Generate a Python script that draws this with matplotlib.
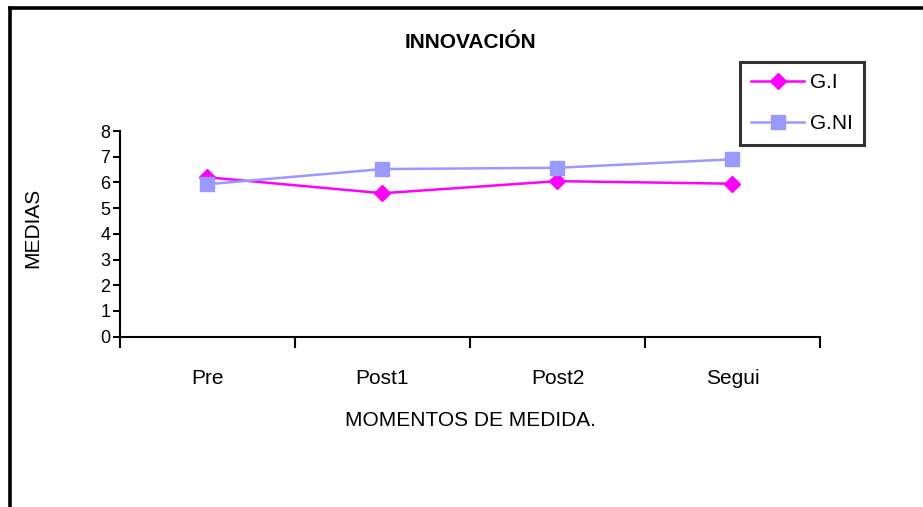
import matplotlib
matplotlib.use('Agg')
import matplotlib.pyplot as plt
from matplotlib.lines import Line2D

# data
momentos = ['Pre', 'Post1', 'Post2', 'Segui']
g_i = [6.2, 5.58, 6.05, 5.95]
g_ni = [5.93, 6.52, 6.57, 6.9]

plt.rcParams['font.family'] = ['Liberation Sans Narrow', 'Liberation Sans', 'DejaVu Sans']

fig = plt.figure(figsize=(9.23, 5.07), dpi=100)
ax = fig.add_axes([120/923, 1-336.7/507, 700/923, (336.7-131)/507])

x = range(len(momentos))
ax.plot(x, g_i, color='#FF00FF', lw=1.8, marker='D', ms=8, label='G.I')
ax.plot(x, g_ni, color='#9999FF', lw=1.8, marker='s', ms=10, label='G.NI')

# a. axes
ax.set_xlim(-0.5, 3.5)
ax.set_ylim(0, 8)
ax.set_yticks(range(9))
ax.set_xticks([-0.5, 0.5, 1.5, 2.5, 3.5])
ax.set_xticklabels([])
ax.set_xticks(list(x), minor=True)
ax.set_xticklabels(momentos, minor=True)
ax.tick_params(axis='x', which='major', direction='out', length=8, width=1.5)
ax.tick_params(axis='x', which='minor', length=0, pad=30, labelsize=15)
ax.tick_params(axis='y', direction='out', length=5, width=1.5, labelsize=13, pad=2)
for s in ['top', 'right']:
    ax.spines[s].set_visible(False)
for s in ['left', 'bottom']:
    ax.spines[s].set_linewidth(1.5)
for lbl in ax.get_xticklabels(minor=True):
    lbl.set_va('center')

# b. texts
fig.text(470/923, 1-42/507, 'INNOVACIÓN', ha='center', va='center',
         fontsize=15, fontweight='bold')
fig.text(470/923, 1-420/507, 'MOMENTOS DE MEDIDA.', ha='center', va='center', fontsize=15)
fig.text(33/923, 1-228/507, 'MEDIAS', ha='center', va='center', rotation=90, fontsize=15)

# c. legend
leg = ax.legend(loc='upper left', bbox_to_anchor=(740/923, 1-62/507),
                bbox_transform=fig.transFigure, fontsize=15, frameon=True,
                fancybox=False, edgecolor='black', handlelength=2.5,
                handletextpad=0.3, labelspacing=1.05, borderpad=0.55,
                borderaxespad=0)
leg.get_frame().set_linewidth(2.2)

# d. outer border (top and left only)
fig.add_artist(Line2D([10/923, 1], [1-8/507, 1-8/507], color='black', lw=2.6,
                      transform=fig.transFigure))
fig.add_artist(Line2D([10/923, 10/923], [0, 1-8/507], color='black', lw=2.6,
                      transform=fig.transFigure))

fig.savefig('out.png', dpi=100)
